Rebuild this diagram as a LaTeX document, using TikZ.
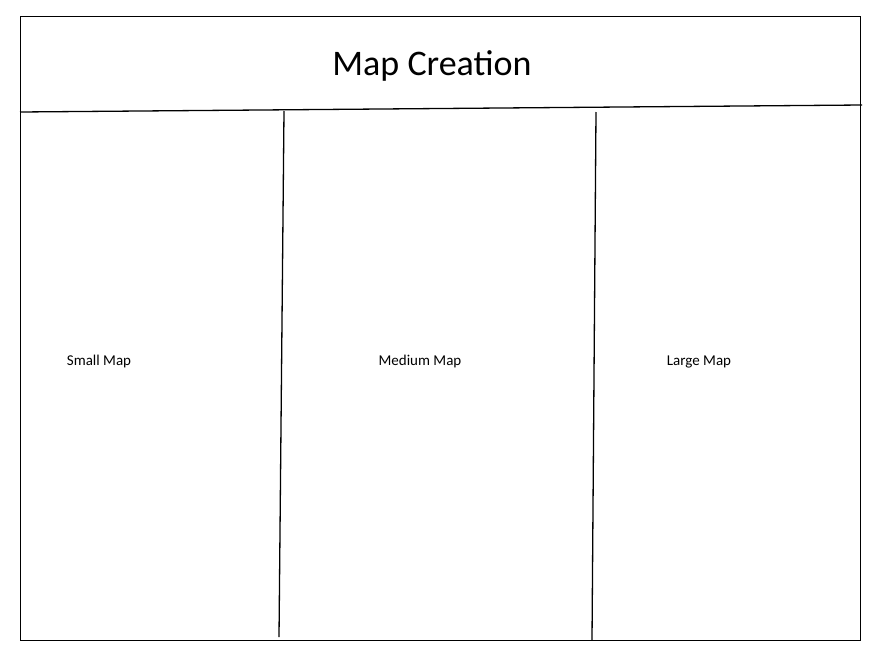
\documentclass[tikz,border=0pt]{standalone}
\usepackage{fontspec}
\setmainfont{Carlito}
\begin{document}
\begin{tikzpicture}[x=1pt,y=-1pt,
  frame/.style={draw=black,line width=1.3pt},
  title/.style={font=\fontsize{36}{42}\selectfont,anchor=base},
  label/.style={font=\fontsize{15}{18}\selectfont,anchor=base}]
\useasboundingbox (0,0) rectangle (878,656);
\fill[white] (0,0) rectangle (878,656);
\node[frame,rectangle,minimum width=840pt,minimum height=624pt,anchor=north west,inner sep=0pt] (box) at (20,16) {};
\coordinate (hl) at (20,112);
\coordinate (hr) at (862,105);
\draw[frame] (hl) -- (hr);
\coordinate (v1t) at (284,111);
\coordinate (v1b) at (279,637);
\coordinate (v2t) at (596,112);
\coordinate (v2b) at (592,640);
\draw[frame] (v1t) -- (v1b);
\draw[frame] (v2t) -- (v2b);
\node[title] (t) at (432,75) {Map Creation};
\node[label] (s) at (99,365) {Small Map};
\node[label] (m) at (420,365) {Medium Map};
\node[label] (l) at (699,365) {Large Map};
\end{tikzpicture}
\end{document}
